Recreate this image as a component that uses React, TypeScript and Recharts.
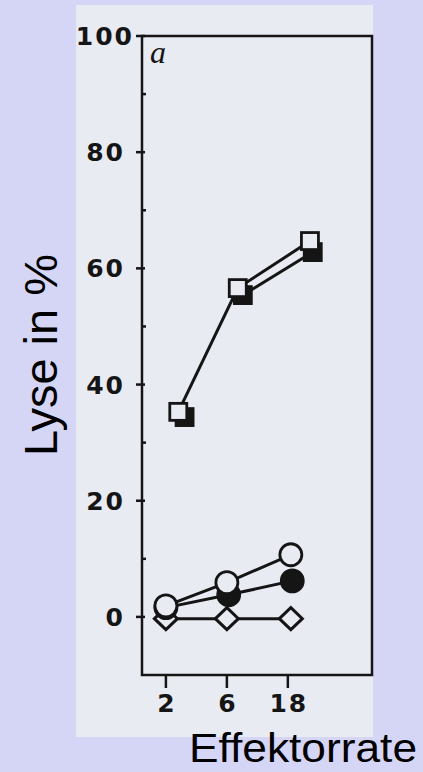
import React from 'react';
import { LineChart, Line, XAxis, YAxis, ReferenceArea, Label } from 'recharts';

// effector : target ratios on the x axis (log spaced)
const effectorRatios = [2, 6, 18];
const lysisTicks = [0, 10, 20, 30, 40, 50, 60, 70, 80, 90, 100];
const majorLysisTicks = [0, 20, 40, 60, 80, 100];

// symbols (x = ratio, y = % lysis)
const openSquareX = [2.5, 7.3, 26.8];
const openSquareY = [35.3, 56.6, 64.7];
const filledSquareX = [2.8, 8.0, 28.2];
const filledSquareY = [34.4, 55.4, 62.8];
const openCircleX = [2, 6, 19];
const openCircleY = [1.9, 5.9, 10.7];
const filledCircleX = [2, 6.2, 19.5];
const filledCircleY = [1.6, 3.8, 6.2];
const diamondX = [2, 6, 19];
const diamondY = [-0.3, -0.3, -0.3];

const INK = '#151515';
const PAPER = '#e9ebf3';
const LAVENDER = '#d5d5f5';
const PLOT_LEFT = 142;
const PLOT_BOTTOM = 675;
const LINE_W = 3;
const tickFont = { fontFamily: 'DejaVu Sans, Liberation Sans, sans-serif', fontWeight: 700, fontSize: 25, letterSpacing: 2 };

const toPoints = (xs: number[], ys: number[]) => xs.map((x, i) => ({ x, y: ys[i] }));

const square = (filled: boolean) => (p: any) => (
  <rect key={p.index} x={p.cx - 8.5} y={p.cy - 8.5} width={17} height={17}
    fill={filled ? INK : PAPER} stroke={INK} strokeWidth={2.8} />
);
const circle = (filled: boolean) => (p: any) => (
  <circle key={p.index} cx={p.cx} cy={p.cy} r={11} fill={filled ? INK : PAPER} stroke={INK} strokeWidth={2.8} />
);
const diamond = (p: any) => (
  <polygon key={p.index}
    points={`${p.cx - 11.5},${p.cy} ${p.cx},${p.cy - 11} ${p.cx + 11.5},${p.cy} ${p.cx},${p.cy + 11}`}
    fill={PAPER} stroke={INK} strokeWidth={3} />
);

const YTick = (props: any) => {
  const { y, payload } = props;
  const v = payload.value;
  const major = majorLysisTicks.includes(v);
  return (
    <g>
      {major
        ? <line x1={PLOT_LEFT - 6} x2={PLOT_LEFT + 3} y1={y} y2={y} stroke={INK} strokeWidth={2.5} />
        : <line x1={PLOT_LEFT} x2={PLOT_LEFT + 4} y1={y} y2={y} stroke={INK} strokeWidth={2.5} />}
      {major && (
        <text x={v === 100 ? PLOT_LEFT - 8 : PLOT_LEFT - 17} y={y + 9} textAnchor="end" fill={INK} style={tickFont}>
          {v}
        </text>
      )}
    </g>
  );
};

const XTick = (props: any) => {
  const { x, payload } = props;
  return (
    <g>
      <line x1={x} x2={x} y1={PLOT_BOTTOM} y2={PLOT_BOTTOM + 13} stroke={INK} strokeWidth={2.5} />
      <text x={x + 1} y={PLOT_BOTTOM + 37} textAnchor="middle" fill={INK} style={tickFont}>
        {payload.value}
      </text>
    </g>
  );
};

export default function App() {
  const filledSquares = toPoints(filledSquareX, filledSquareY);
  return (
    <div style={{ position: 'fixed', left: 0, top: 0, width: 423, height: 772, background: LAVENDER, overflow: 'hidden' }}>
      <div style={{ position: 'absolute', left: 76, top: 5, width: 297, height: 732, background: PAPER }} />
      <div style={{ position: 'absolute', left: 0, top: 0 }}>
        <LineChart width={423} height={772} margin={{ top: 36, right: 51, bottom: 57, left: 82 }}>
          <XAxis type="number" dataKey="x" scale="log" domain={[1.3, 82]} ticks={effectorRatios}
            allowDataOverflow height={40} axisLine={false} tickLine={false} tick={<XTick />} interval={0}>
            <Label content={() => (
              <text x={189} y={762} textLength={228} lengthAdjust="spacingAndGlyphs" fill="#000"
                style={{ fontFamily: 'Liberation Sans, Arial, sans-serif', fontSize: 41 }}>Effektorrate</text>
            )} />
          </XAxis>
          <YAxis type="number" dataKey="y" domain={[-10, 100]} ticks={lysisTicks} allowDataOverflow
            width={60} axisLine={false} tickLine={false} tick={<YTick />} interval={0}>
            <Label content={() => (
              <text x={57} y={355} transform="rotate(-90 57 355)" textAnchor="middle" fill="#000"
                style={{ fontFamily: 'Liberation Sans, Arial, sans-serif', fontSize: 47 }}>Lyse in %</text>
            )} />
          </YAxis>
          <ReferenceArea x1={1.3} x2={82} y1={-10} y2={100} fill="none" stroke={INK} strokeWidth={2.5} ifOverflow="visible">
            <Label content={() => (
              <text x={150} y={63} fill={INK}
                style={{ fontFamily: 'Liberation Serif, serif', fontStyle: 'italic', fontSize: 32 }}>a</text>
            )} />
          </ReferenceArea>
          {/* filled squares: their 2-6 segment hides under the open-square line in the scan */}
          <Line data={filledSquares.slice(1)} dataKey="y" stroke={INK} strokeWidth={LINE_W}
            dot={false} isAnimationActive={false} />
          <Line data={filledSquares} dataKey="y" stroke="none"
            dot={square(true)} isAnimationActive={false} />
          <Line data={toPoints(openSquareX, openSquareY)} dataKey="y" stroke={INK} strokeWidth={LINE_W}
            dot={square(false)} isAnimationActive={false} />
          <Line data={toPoints(diamondX, diamondY)} dataKey="y" stroke={INK} strokeWidth={LINE_W}
            dot={diamond} isAnimationActive={false} />
          <Line data={toPoints(filledCircleX, filledCircleY)} dataKey="y" stroke={INK} strokeWidth={LINE_W}
            dot={circle(true)} isAnimationActive={false} />
          <Line data={toPoints(openCircleX, openCircleY)} dataKey="y" stroke={INK} strokeWidth={LINE_W}
            dot={circle(false)} isAnimationActive={false} />
        </LineChart>
      </div>
    </div>
  );
}
